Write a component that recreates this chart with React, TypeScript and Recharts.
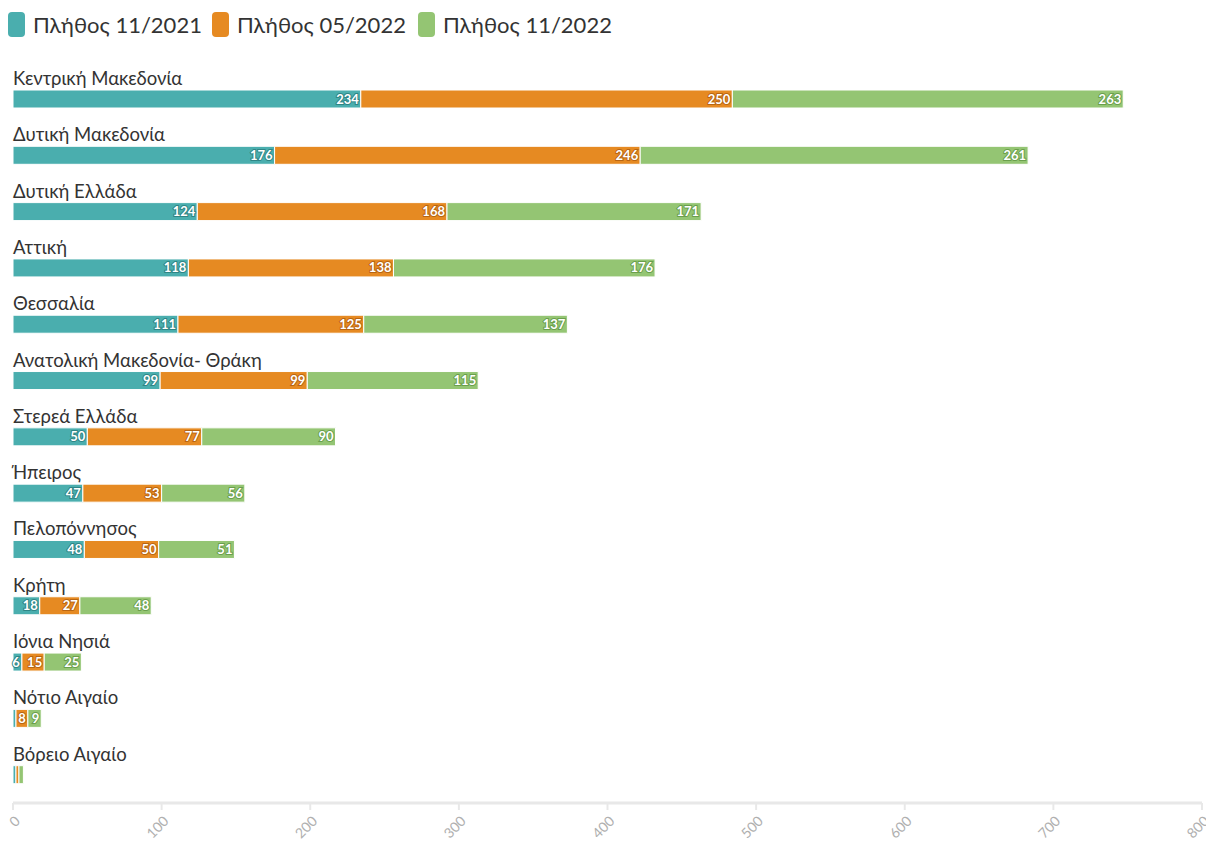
import { BarChart, Bar, XAxis, YAxis, LabelList } from "recharts";

const regions: string[] = [
  "Κεντρική Μακεδονία",
  "Δυτική Μακεδονία",
  "Δυτική Ελλάδα",
  "Αττική",
  "Θεσσαλία",
  "Ανατολική Μακεδονία- Θράκη",
  "Στερεά Ελλάδα",
  "Ήπειρος",
  "Πελοπόννησος",
  "Κρήτη",
  "Ιόνια Νησιά",
  "Νότιο Αιγαίο",
  "Βόρειο Αιγαίο",
];

const count2021_11: number[] = [234, 176, 124, 118, 111, 99, 50, 47, 48, 18, 6, 2, 2];
const count2022_05: number[] = [250, 246, 168, 138, 125, 99, 77, 53, 50, 27, 15, 8, 2];
const count2022_11: number[] = [263, 261, 171, 176, 137, 115, 90, 56, 51, 48, 25, 9, 3];

const xTicks: number[] = [0, 100, 200, 300, 400, 500, 600, 700, 800];

const seriesNames = ["Πλήθος 11/2021", "Πλήθος 05/2022", "Πλήθος 11/2022"];
const colors = ["#4aaeae", "#e68a22", "#94c573"];
const outline = ["#2f8585", "#b86512", "#6a9f4c"];

const data = regions.map((region, i) => ({
  region,
  a: count2021_11[i],
  b: count2022_05[i],
  c: count2022_11[i],
}));

const FONT = "Lato, 'Noto Sans', sans-serif";

// value label inside the end of each segment
const valueLabel = (idx: number) => (props: any) => {
  const { x, y, width, height, value } = props;
  if (value < 5) return null;
  return (
    <text
      x={x + width - 2}
      y={y + height / 2 + 4.5}
      textAnchor="end"
      fontSize={13}
      fontWeight={700}
      fontFamily={FONT}
      fill="#fff"
      stroke={outline[idx]}
      strokeWidth={2}
      paintOrder="stroke"
    >
      {value}
    </text>
  );
};

// region name above the bar
const regionLabel = (props: any) => {
  const { x, y, value } = props;
  return (
    <text x={x} y={y - 5} fontSize={18.5} fontFamily={FONT} fill="#333">
      {value}
    </text>
  );
};

const XTick = (props: any) => {
  const { x, y, payload } = props;
  return (
    <g transform={`translate(${x + 8},${y + 10})`}>
      <text
        textAnchor="end"
        transform="rotate(-45)"
        fontSize={14}
        fontFamily={FONT}
        fill="#b0b0b0"
      >
        {payload.value}
      </text>
    </g>
  );
};

const legendX = [8, 212, 418];

const App = () => {
  return (
    <div style={{ position: "relative", width: 1214, height: 852, margin: -8, fontFamily: FONT }}>
      <div style={{ position: "absolute", left: 0, top: 12, height: 25, width: 700 }}>
        {seriesNames.map((name, i) => (
          <div
            key={name}
            style={{
              position: "absolute",
              left: legendX[i],
              top: 0,
              display: "flex",
              alignItems: "center",
              height: 25,
            }}
          >
            <span
              style={{
                display: "inline-block",
                width: 17,
                height: 25,
                borderRadius: 4,
                background: colors[i],
                marginRight: 8,
              }}
            />
            <span style={{ fontSize: 22, color: "#333" }}>{name}</span>
          </div>
        ))}
      </div>
      <BarChart
        width={1214}
        height={852}
        data={data}
        layout="vertical"
        margin={{ top: 71, right: 12, left: 13, bottom: 0 }}
        barSize={18}
      >
        <XAxis
          type="number"
          domain={[0, 800]}
          ticks={xTicks}
          interval={0}
          height={49}
          axisLine={{ stroke: "#e8e8e8", strokeWidth: 3 }}
          tickLine={{ stroke: "#e8e8e8", strokeWidth: 2 }}
          tickSize={7}
          tick={<XTick />}
        />
        <YAxis type="category" dataKey="region" hide />
        <Bar dataKey="a" stackId="s" fill={colors[0]} stroke="#fff" strokeWidth={1} isAnimationActive={false}>
          <LabelList dataKey="a" content={valueLabel(0)} />
          <LabelList dataKey="region" content={regionLabel} />
        </Bar>
        <Bar dataKey="b" stackId="s" fill={colors[1]} stroke="#fff" strokeWidth={1} isAnimationActive={false}>
          <LabelList dataKey="b" content={valueLabel(1)} />
        </Bar>
        <Bar dataKey="c" stackId="s" fill={colors[2]} stroke="#fff" strokeWidth={1} isAnimationActive={false}>
          <LabelList dataKey="c" content={valueLabel(2)} />
        </Bar>
      </BarChart>
    </div>
  );
};

export default App;
